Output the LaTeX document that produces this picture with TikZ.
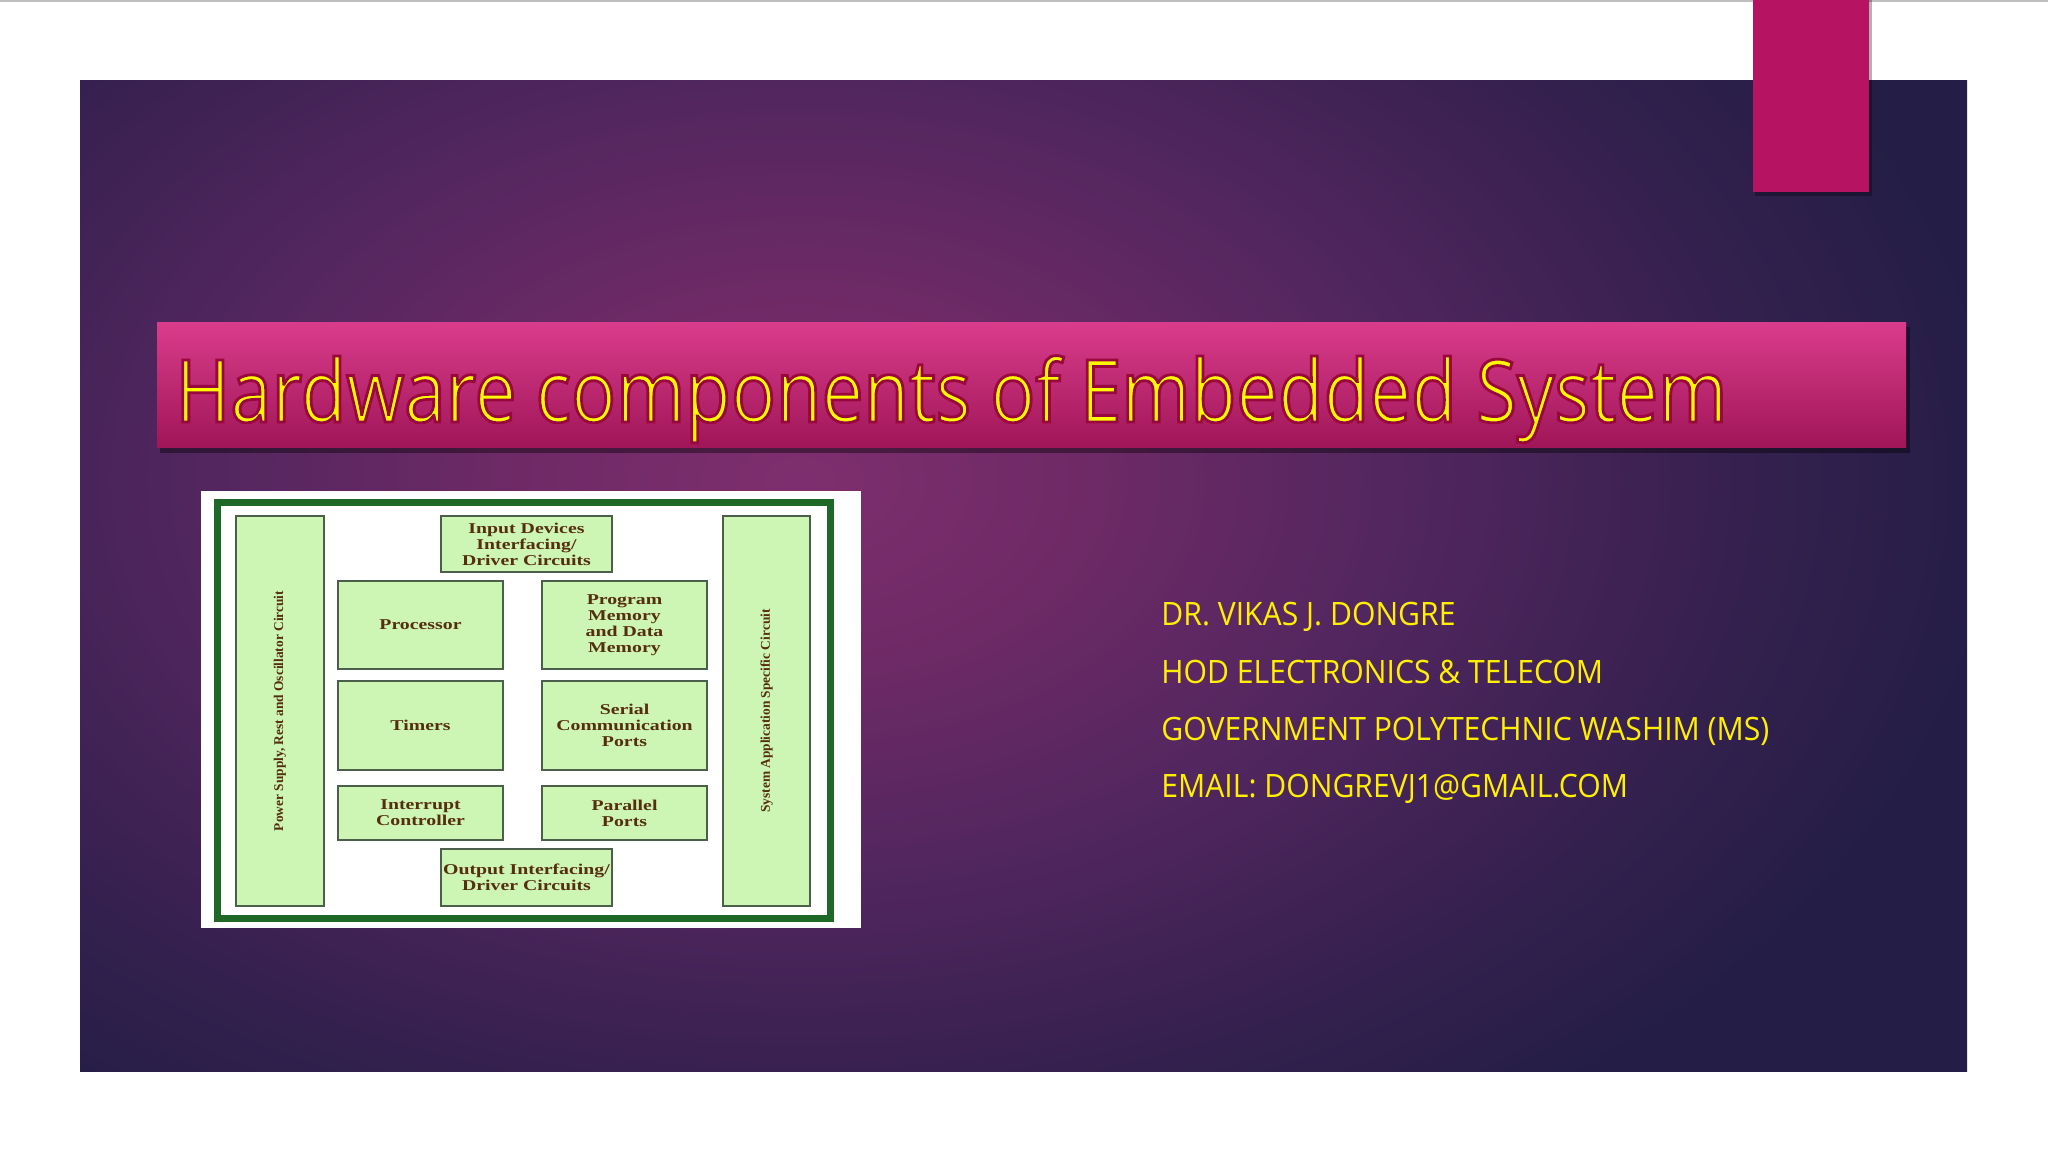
\documentclass[tikz,border=0pt]{standalone}
\usepackage{fontspec}
\setmainfont{Liberation Serif}
\newfontfamily\boxfont{Liberation Serif}[FakeStretch=1.32]
\newfontfamily\rotfont{Liberation Serif}
\newfontfamily\titlefont{Open Sans}[FakeStretch=0.858]
\newfontfamily\authfont{Open Sans}[FakeStretch=0.936]
\newcommand\outlinedtext[1]{\special{pdf:literal direct 2 Tr 1.4 w 0.6 0.03 0.24 RG}#1\special{pdf:literal direct 0 Tr}}
\definecolor{bgA}{RGB}{126,46,110}
\definecolor{bgB}{RGB}{110,42,102}
\definecolor{bgC}{RGB}{82,38,95}
\definecolor{bgD}{RGB}{52,32,78}
\definecolor{bgE}{RGB}{36,30,70}
\definecolor{tabpink}{RGB}{182,20,98}
\definecolor{bartop}{RGB}{218,60,140}
\definecolor{barbot}{RGB}{160,22,88}
\definecolor{ttlyellow}{RGB}{255,250,0}
\definecolor{authyellow}{RGB}{255,240,0}
\definecolor{boxfill}{RGB}{205,245,180}
\definecolor{boxedge}{RGB}{75,95,75}
\definecolor{boxtext}{RGB}{85,45,15}
\definecolor{framegreen}{RGB}{30,105,40}
\pgfdeclareradialshading{bgshade}{\pgfpoint{0bp}{0bp}}{color(0bp)=(bgA); color(6bp)=(bgB); color(12.5bp)=(bgC); color(20bp)=(bgD); color(25bp)=(bgE); color(50bp)=(bgE)}
\tikzset{
  hwbox/.style={draw=boxedge, line width=1.2pt, fill=boxfill, inner sep=0pt, align=center,
    text=boxtext, font=\boxfont\bfseries\fontsize{7.5}{8}\selectfont},
  rotbox/.style={hwbox, rotate=90, font=\rotfont\bfseries\fontsize{6.7}{8}\selectfont},
  ttl/.style={anchor=base west, inner sep=0pt, font=\titlefont\fontsize{43.4}{50}\selectfont},
  auth/.style={anchor=base west, inner sep=0pt, text=authyellow, font=\authfont\fontsize{16.1}{18}\selectfont}
}
\begin{document}
\begin{tikzpicture}[x=0.5pt,y=-0.5pt]
\useasboundingbox (0,0) rectangle (2048,1152);
\fill[white] (0,0) rectangle (2048,1152);
\draw[line width=1pt, black!25] (0,1) -- (2048,1);
% slide background
\begin{scope}
\clip (80,80) rectangle (1967,1071);
\fill[bgE] (80,80) rectangle (1967,1071);
\shade[shading=bgshade] (-400,-300) rectangle (2000,1260);
\end{scope}
% pink tab
\fill[black, opacity=0.3] (1755,0) rectangle (1872,196);
\fill[tabpink] (1753,0) rectangle (1869,192);
% title bar
\fill[black, opacity=0.4] (160,327) rectangle (1910,453);
\shade[top color=bartop, bottom color=barbot] (157,322) rectangle (1906,447);
\node[ttl, text=ttlyellow] (title) at (175,422) {\outlinedtext{Hardware components of Embedded System}};
% diagram picture
\fill[white] (201,491) rectangle (861,928);
\draw[framegreen, line width=3.5pt] (217.5,502.5) rectangle (830.5,918.5);
\node[rotbox, minimum width=195pt, minimum height=44pt] (pwr) at (280,711) {Power Supply, Rest and Oscillator Circuit};
\node[rotbox, minimum width=195pt, minimum height=43.5pt] (sys) at (766.5,711) {System Application Specific Circuit};
\node[hwbox, minimum width=85.5pt, minimum height=28pt] (inp) at (526.5,544) {Input Devices\\Interfacing/\\Driver Circuits};
\node[hwbox, minimum width=82.5pt, minimum height=44pt] (proc) at (420.5,625) {Processor};
\node[hwbox, minimum width=82.5pt, minimum height=44pt] (mem) at (624.5,625) {Program\\Memory\\and Data\\Memory};
\node[hwbox, minimum width=82.5pt, minimum height=44.5pt] (tim) at (420.5,725.5) {Timers};
\node[hwbox, minimum width=82.5pt, minimum height=44.5pt] (ser) at (624.5,725.5) {Serial\\Communication\\Ports};
\node[hwbox, minimum width=82.5pt, minimum height=27pt] (intr) at (420.5,813) {Interrupt\\Controller};
\node[hwbox, minimum width=82.5pt, minimum height=27pt] (par) at (624.5,813) {Parallel\\Ports};
\node[hwbox, minimum width=85.5pt, minimum height=28.5pt] (out) at (526.5,877.5) {Output Interfacing/\\Driver Circuits};
% author
\node[auth] (a1) at (1161,625) {DR. VIKAS J. DONGRE};
\node[auth] (a2) at (1161,683) {HOD ELECTRONICS \& TELECOM};
\node[auth] (a3) at (1161,740) {GOVERNMENT POLYTECHNIC WASHIM (MS)};
\node[auth] (a4) at (1161,797) {EMAIL: DONGREVJ1@GMAIL.COM};
\end{tikzpicture}
\end{document}
